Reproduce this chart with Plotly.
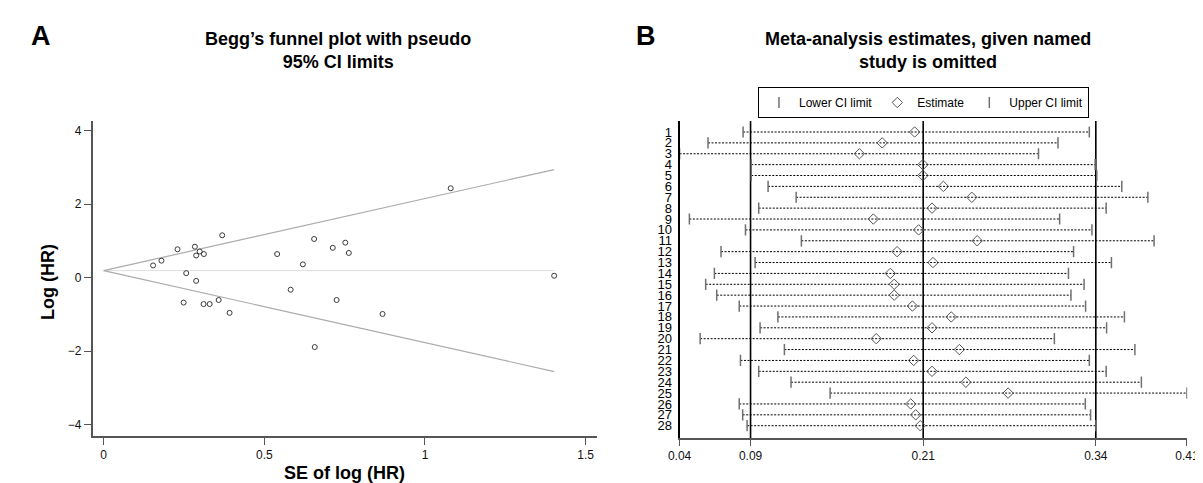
import plotly.graph_objects as go

W, H = 1203, 483
FONT = "Arial, 'Liberation Sans', sans-serif"

# ---------------- Panel A: Begg's funnel plot ----------------
se = [0.154, 0.180, 0.230, 0.284, 0.288, 0.299, 0.312, 0.369, 0.257, 0.288,
      0.249, 0.311, 0.330, 0.358, 0.392, 0.540, 0.620, 0.582, 0.655, 0.713,
      0.752, 0.763, 0.725, 0.868, 0.657, 1.080, 1.402]
loghr = [0.33, 0.46, 0.77, 0.84, 0.60, 0.71, 0.64, 1.15, 0.12, -0.09,
         -0.68, -0.72, -0.72, -0.61, -0.96, 0.64, 0.36, -0.33, 1.05, 0.81,
         0.95, 0.67, -0.61, -0.99, -1.89, 2.43, 0.05]
pooled = 0.19
z95 = 1.96
a_xticks = [0, 0.5, 1, 1.5]
a_xticktext = ["0", "0.5", "1", "1.5"]
a_yticks = [-4, -2, 0, 2, 4]
a_yticktext = ["\u22124", "\u22122", "0", "2", "4"]

# ---------------- Panel B: influence analysis ----------------
studies = list(range(1, 29))
lower = [0.0826, 0.0572, 0.0366, 0.0885, 0.0885, 0.1007, 0.1210, 0.0939, 0.0437, 0.0843,
         0.1248, 0.0666, 0.0913, 0.0618, 0.0555, 0.0635, 0.0798, 0.1078, 0.0949, 0.0515,
         0.1125, 0.0807, 0.0939, 0.1173, 0.1456, 0.0798, 0.0823, 0.0855]
estimate = [0.2068, 0.1833, 0.1668, 0.2128, 0.2128, 0.2276, 0.2482, 0.2194, 0.1769, 0.2097,
            0.2521, 0.1941, 0.2201, 0.1892, 0.1920, 0.1920, 0.2052, 0.2333, 0.2194, 0.1790,
            0.2392, 0.2061, 0.2194, 0.2439, 0.2745, 0.2040, 0.2076, 0.2109]
upper = [0.3333, 0.3106, 0.2965, 0.3375, 0.3387, 0.3568, 0.3757, 0.3455, 0.3118, 0.3352,
         0.3802, 0.3219, 0.3493, 0.3182, 0.3295, 0.3200, 0.3306, 0.3587, 0.3458, 0.3080,
         0.3663, 0.3333, 0.3455, 0.3710, 0.4040, 0.3304, 0.3342, 0.3381]
overall = [0.088, 0.213, 0.338]  # lower CI, estimate, upper CI of the full analysis
b_xticks = [0.0366, 0.088, 0.213, 0.338, 0.404]
b_xticktext = ["0.04", "0.09", "0.21", "0.34", "0.41"]


def xd(a, b):
    return [a / W, b / W]


def yd(top, bottom):
    return [1 - bottom / H, 1 - top / H]


fig = go.Figure()

# Funnel limits and pooled line (panel A)
se_max = max(se)
fig.add_trace(go.Scatter(x=[0, se_max], y=[pooled, pooled], mode="lines",
                         line=dict(color="#dedede", width=1), showlegend=False,
                         hoverinfo="skip", xaxis="x", yaxis="y"))
fig.add_trace(go.Scatter(x=[0, se_max], y=[pooled, pooled + z95 * se_max], mode="lines",
                         line=dict(color="#ababab", width=1.2), showlegend=False,
                         hoverinfo="skip", xaxis="x", yaxis="y"))
fig.add_trace(go.Scatter(x=[0, se_max], y=[pooled, pooled - z95 * se_max], mode="lines",
                         line=dict(color="#ababab", width=1.2), showlegend=False,
                         hoverinfo="skip", xaxis="x", yaxis="y"))
fig.add_trace(go.Scatter(x=se, y=loghr, mode="markers",
                         marker=dict(symbol="circle-open", size=5, color="#3a3a3a",
                                     line=dict(width=1, color="#3a3a3a")),
                         showlegend=False, xaxis="x", yaxis="y"))

# Panel B: dotted CI lines
cx, cy = [], []
for lo, hi, s in zip(lower, upper, studies):
    cx += [lo, hi, None]
    cy += [s, s, None]
fig.add_trace(go.Scatter(x=cx, y=cy, mode="lines",
                         line=dict(color="#000000", width=1, dash="2px,1.5px"),
                         showlegend=False, hoverinfo="skip", xaxis="x2", yaxis="y2"))
fig.add_trace(go.Scatter(x=lower, y=studies, mode="markers", name="Lower CI limit",
                         marker=dict(symbol="line-ns", size=8, color="#707070",
                                     line=dict(width=1.5, color="#707070")),
                         xaxis="x2", yaxis="y2"))
fig.add_trace(go.Scatter(x=estimate, y=studies, mode="markers", name="Estimate",
                         marker=dict(symbol="diamond-open", size=8, color="#555555",
                                     line=dict(width=1, color="#555555")),
                         xaxis="x2", yaxis="y2"))
fig.add_trace(go.Scatter(x=upper, y=studies, mode="markers", name="Upper CI limit",
                         marker=dict(symbol="line-ns", size=8, color="#707070",
                                     line=dict(width=1.5, color="#707070")),
                         xaxis="x2", yaxis="y2"))

shapes = []
for v in overall:
    shapes.append(dict(type="line", xref="x2", yref="y2 domain", x0=v, x1=v, y0=0, y1=1,
                       line=dict(color="#000000", width=1.6), layer="below"))

axis_common = dict(showgrid=False, zeroline=False, showline=True, linecolor="#555555",
                   linewidth=1.6, ticks="outside", tickcolor="#555555", tickwidth=1.2,
                   tickfont=dict(family=FONT, size=12, color="#111111"), mirror=False,
                   ticklabeloverflow="allow")

fig.update_layout(
    width=W, height=H,
    margin=dict(l=0, r=0, t=0, b=0),
    paper_bgcolor="white", plot_bgcolor="white",
    font=dict(family=FONT, color="#000000"),
    xaxis=dict(domain=xd(74, 589), range=[-0.0345, 1.536], anchor="y", ticklen=7,
               tickvals=a_xticks, ticktext=a_xticktext, **axis_common),
    yaxis=dict(domain=yd(113, 428), range=[-4.31, 4.26], anchor="x", ticklen=7,
               tickvals=a_yticks, ticktext=a_yticktext, **axis_common),
    xaxis2=dict(domain=xd(673, 1191), range=[0.0366, 0.4042], anchor="y2", ticklen=6,
                tickvals=b_xticks, ticktext=b_xticktext, **axis_common),
    yaxis2=dict(domain=yd(113, 430), range=[29.13, -0.011], anchor="x2",
                tickvals=studies, ticktext=[str(s) for s in studies],
                showgrid=False, zeroline=False, showline=True, linecolor="#000000",
                linewidth=1.8, ticks="", ticklabelstandoff=3,
                tickfont=dict(family=FONT, size=13, color="#000000")),
    shapes=shapes,
    legend=dict(orientation="h", x=753 / W, xanchor="left", y=1 - 79 / H, yanchor="top",
                bordercolor="#000000", borderwidth=1, bgcolor="white",
                font=dict(family=FONT, size=12), itemwidth=30),
    annotations=[
        dict(text="<b>A</b>", x=21 / W, y=1 - 28 / H, xref="paper", yref="paper",
             xanchor="center", yanchor="middle", showarrow=False,
             font=dict(size=27, family=FONT)),
        dict(text="<b>B</b>", x=639 / W, y=1 - 28 / H, xref="paper", yref="paper",
             xanchor="center", yanchor="middle", showarrow=False,
             font=dict(size=27, family=FONT)),
        dict(text="<b>Begg\u2019s funnel plot with pseudo<br>95% CI limits</b>",
             x=324 / W, y=1 - 43 / H, xref="paper", yref="paper", showarrow=False,
             xanchor="center", yanchor="middle",
             font=dict(size=18, family=FONT), align="center"),
        dict(text="<b>Meta-analysis estimates, given named<br>study is omitted</b>",
             x=926 / W, y=1 - 43 / H, xref="paper", yref="paper", showarrow=False,
             xanchor="center", yanchor="middle",
             font=dict(size=18, family=FONT), align="center"),
        dict(text="<b>Log (HR)</b>", x=28.5 / W, y=1 - 274 / H, xref="paper", yref="paper",
             xanchor="center", yanchor="middle", showarrow=False, textangle=-90,
             font=dict(size=18, family=FONT)),
        dict(text="<b>SE of log (HR)</b>", x=331 / W, y=1 - 465 / H, xref="paper",
             yref="paper", xanchor="center", yanchor="middle", showarrow=False,
             font=dict(size=18, family=FONT)),
    ],
)

fig.write_html("out.html")
